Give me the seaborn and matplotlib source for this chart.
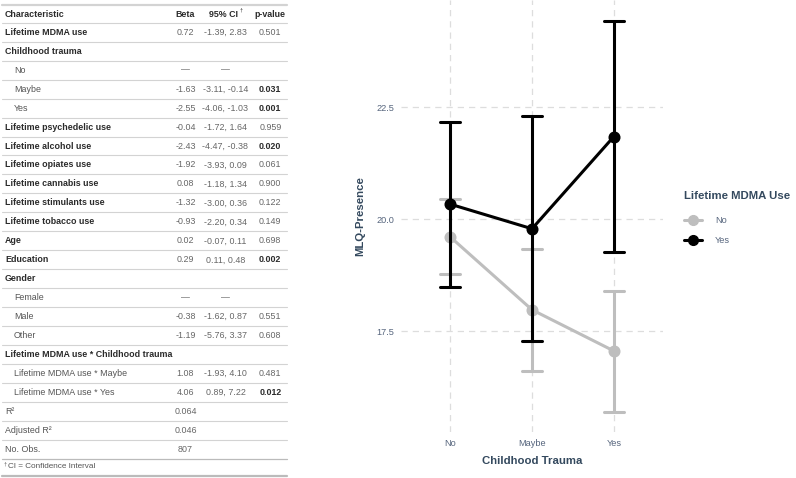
import numpy as np
import pandas as pd
import matplotlib
matplotlib.use("Agg")
import matplotlib.pyplot as plt
import seaborn as sns
from matplotlib.lines import Line2D

# ---------------- data ----------------
trauma_levels = ["No", "Maybe", "Yes"]
mdma_levels = ["No", "Yes"]
mean_no = [19.61, 17.98, 17.06]
lo_no = [18.78, 16.62, 15.70]
hi_no = [20.45, 19.34, 18.41]
mean_yes = [20.34, 19.79, 21.85]
lo_yes = [18.50, 17.29, 19.28]
hi_yes = [22.17, 22.30, 24.43]
y_ticks = [17.5, 20.0, 22.5]

tbl_labels = ["Lifetime MDMA use", "Childhood trauma", "No", "Maybe", "Yes",
              "Lifetime psychedelic use", "Lifetime alcohol use", "Lifetime opiates use",
              "Lifetime cannabis use", "Lifetime stimulants use", "Lifetime tobacco use",
              "Age", "Education", "Gender", "Female", "Male", "Other",
              "Lifetime MDMA use * Childhood trauma", "Lifetime MDMA use * Maybe",
              "Lifetime MDMA use * Yes", "R²", "Adjusted R²", "No. Obs."]
tbl_beta = ["0.72", "", "—", "-1.63", "-2.55", "-0.04", "-2.43", "-1.92", "0.08",
            "-1.32", "-0.93", "0.02", "0.29", "", "—", "-0.38", "-1.19", "", "1.08",
            "4.06", "0.064", "0.046", "807"]
tbl_ci = ["-1.39, 2.83", "", "—", "-3.11, -0.14", "-4.06, -1.03", "-1.72, 1.64",
          "-4.47, -0.38", "-3.93, 0.09", "-1.18, 1.34", "-3.00, 0.36", "-2.20, 0.34",
          "-0.07, 0.11", "0.11, 0.48", "", "—", "-1.62, 0.87", "-5.76, 3.37", "",
          "-1.93, 4.10", "0.89, 7.22", "", "", ""]
tbl_p = ["0.501", "", "", "0.031", "0.001", "0.959", "0.020", "0.061", "0.900",
         "0.122", "0.149", "0.698", "0.002", "", "", "0.551", "0.608", "", "0.481",
         "0.012", "", "", ""]
tbl_bold_label = [1, 1, 0, 0, 0, 1, 1, 1, 1, 1, 1, 1, 1, 1, 0, 0, 0, 1, 0, 0, 0, 0, 0]
tbl_indent = [0, 0, 1, 1, 1, 0, 0, 0, 0, 0, 0, 0, 0, 0, 1, 1, 1, 0, 1, 1, 0, 0, 0]

# ---------------- figure ----------------
sns.set_theme(style="white")
plt.rcParams["font.family"] = ["Liberation Sans", "DejaVu Sans"]

W, H = 796, 478
fig = plt.figure(figsize=(W / 100, H / 100), dpi=100)

title_col = "#34495E"
tick_col = "#56657D"

# --- interaction plot ---
rows = []
for lvl, m, lo, hi in [("No", mean_no, lo_no, hi_no), ("Yes", mean_yes, lo_yes, hi_yes)]:
    for t, a, b, c in zip(trauma_levels, lo, m, hi):
        for v in (a, b, c):
            rows.append({"trauma": t, "mdma": lvl, "value": v})
df = pd.DataFrame(rows)

ax = fig.add_axes([401 / W, 1 - 432 / H, (663 - 401) / W, 432 / H])
palette = {"No": "#BEBEBE", "Yes": "#000000"}
sns.pointplot(data=df, x="trauma", y="value", hue="mdma", order=trauma_levels,
              hue_order=mdma_levels, palette=palette, estimator="median",
              errorbar=lambda v: (v.min(), v.max()), capsize=0.25,
              linewidth=2.2, markersize=7, err_kws={"linewidth": 2.2},
              legend=False, ax=ax)
ax.set_xlim(-0.6, 2.6)
ax.set_ylim(15.25, 24.9)
ax.set_yticks(y_ticks)
ax.set_yticklabels([f"{t:.1f}" for t in y_ticks])
for s in ax.spines.values():
    s.set_visible(False)
ax.grid(True, color="#DDDDDD", linestyle=(0, (5, 4)), linewidth=0.9)
ax.set_axisbelow(True)
ax.tick_params(axis="both", length=0, labelsize=6.6, labelcolor=tick_col, pad=5)
ax.set_xlabel("Childhood Trauma", fontsize=8.2, fontweight="bold", color=title_col, labelpad=6)
ax.set_ylabel("MLQ-Presence", fontsize=8.2, fontweight="bold", color=title_col, labelpad=8)
ax.patch.set_alpha(0)

handles = [Line2D([0], [0], color=palette[l], marker="o", markersize=7, linewidth=2.2)
           for l in mdma_levels]
leg = fig.legend(handles, mdma_levels, title="Lifetime MDMA Use", loc="upper left",
                 bbox_to_anchor=(684 / W, 1 - 191 / H), frameon=False, fontsize=6.6,
                 title_fontsize=8.2, handlelength=2.0, labelspacing=1.2, handletextpad=1.4,
                 borderaxespad=0, borderpad=0)
leg.get_title().set_fontweight("bold")
leg.get_title().set_color(title_col)
leg._legend_box.align = "left"
leg._legend_box.sep = 11
for t in leg.get_texts():
    t.set_color(tick_col)

# --- table ---
at = fig.add_axes([0, 0, 1, 1])
at.set_xlim(0, W)
at.set_ylim(H, 0)
at.axis("off")
at.patch.set_alpha(0)

x0, x1 = 2, 287
xb, xc, xp = 185.5, 225.5, 270.3
fs = 6.4
dark = "#2B2B2B"
grey = "#666666"

at.plot([x0, x1], [5, 5], color="#D3D3D3", linewidth=1.6)
hy = 14
at.text(5, hy, "Characteristic", fontsize=fs, fontweight="bold", color=dark, va="center")
at.text(xb, hy, "Beta", fontsize=fs, fontweight="bold", color=dark, va="center", ha="center")
at.text(xc - 2, hy, "95% CI", fontsize=fs, fontweight="bold", color=dark, va="center", ha="center")
at.text(xc + 14, hy - 4, "†", fontsize=4, color=dark, va="center", ha="left")
at.text(xp, hy, "p-value", fontsize=fs, fontweight="bold", color=dark, va="center", ha="center")

top = 22.7
rh = 18.97
for i, lab in enumerate(tbl_labels):
    y_line = top + rh * i
    at.plot([x0, x1], [y_line, y_line], color="#D3D3D3", linewidth=0.8)
    yc = y_line + rh / 2
    lx = 14 if tbl_indent[i] else 5
    at.text(lx, yc, lab, fontsize=fs, va="center",
            fontweight="bold" if tbl_bold_label[i] else "normal",
            color=dark if tbl_bold_label[i] else "#555555")
    if tbl_beta[i]:
        at.text(xb, yc, tbl_beta[i], fontsize=fs, va="center", ha="center", color=grey)
    if tbl_ci[i]:
        at.text(xc, yc, tbl_ci[i], fontsize=fs, va="center", ha="center", color=grey)
    if tbl_p[i]:
        sig = float(tbl_p[i]) < 0.05
        at.text(xp, yc, tbl_p[i], fontsize=fs, va="center", ha="center",
                fontweight="bold" if sig else "normal", color=dark if sig else grey)

y_last = top + rh * len(tbl_labels)
at.plot([x0, x1], [y_last, y_last], color="#BBBBBB", linewidth=0.9)
at.text(4, y_last + 4.5, "†", fontsize=4, color="#555555", va="center")
at.text(8, y_last + 7.8, "CI = Confidence Interval", fontsize=5.9, color="#555555", va="center")
at.plot([x0, x1], [475.5, 475.5], color="#BBBBBB", linewidth=1.6)

fig.savefig("out.png", dpi=100)
